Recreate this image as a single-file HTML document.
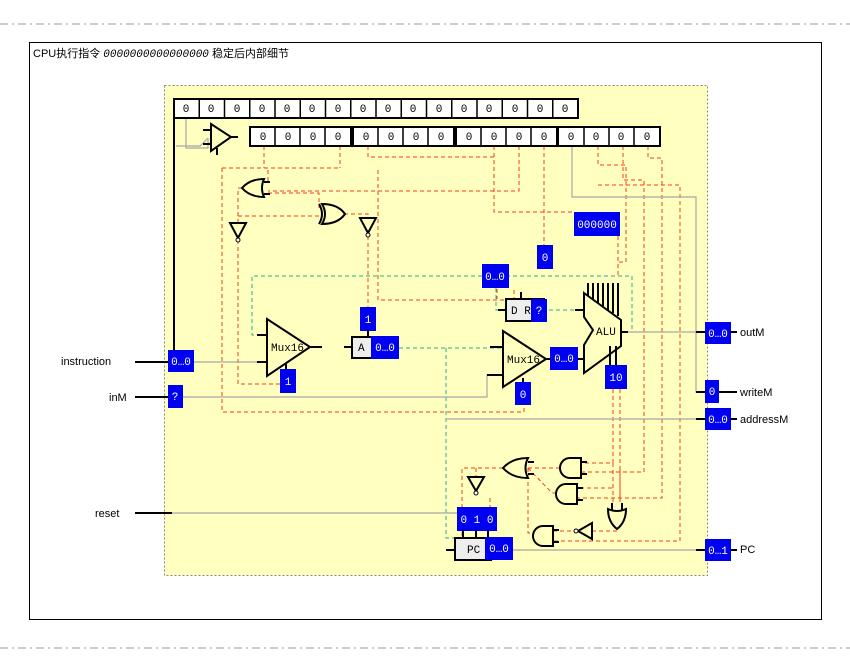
<!DOCTYPE html>
<html><head><meta charset="utf-8"><style>
html,body{margin:0;padding:0;background:#fff;width:850px;height:664px;overflow:hidden}
svg{display:block}
text{font-family:"Liberation Mono","DejaVu Sans Mono",monospace;font-size:11px}
.t{font-family:"Liberation Sans","Noto Sans CJK SC",sans-serif;font-size:11px}
.r{stroke:#ff3a1a;stroke-width:1;fill:none;stroke-dasharray:4,3}
.g{stroke:#20b090;stroke-width:1;fill:none;stroke-dasharray:4,3}
.gr{stroke:#a8a8a8;stroke-width:1.2;fill:none}
.k{stroke:#000;stroke-width:2;fill:none}
.gate{stroke:#000;stroke-width:2;fill:#ffffc0}
.b{fill:#0000f0}
.bt{fill:#fff;text-anchor:middle}
</style></head><body>
<svg width="850" height="664" viewBox="0 0 850 664">
<line x1="0" y1="24" x2="850" y2="24" stroke="#999" stroke-dasharray="8,4,2,4"/>
<line x1="0" y1="648" x2="850" y2="648" stroke="#999" stroke-dasharray="8,4,2,4"/>
<rect x="29.5" y="42.5" width="792" height="577" fill="none" stroke="#000"/>
<text x="33" y="57" class="t">CPU执行指令 <tspan font-family="Liberation Mono,monospace" font-style="italic">0000000000000000</tspan> 稳定后内部细节</text>
<rect x="164.5" y="85.5" width="543" height="490" fill="#ffffc0" stroke="#888" stroke-dasharray="2,2"/>

<!-- red dashed wires -->
<path class="r" d="M264 146V168M340 146V168M222 168H340M222 168V412H524V405"/>
<path class="r" d="M242 188H238V223M238 240V384H280"/>
<path class="r" d="M238 216H319M268 181V168M268 193H319V208"/>
<path class="r" d="M344 214H368V218M368 236V307"/>
<path class="r" d="M368 146V157H494V212H575"/>
<path class="r" d="M519 146V191H268"/>
<path class="r" d="M494 146V160"/>
<path class="r" d="M544 146V245"/>
<path class="r" d="M598 146V165H626V262H618M618 236V276"/>
<path class="r" d="M623 146V180H644V472H581"/>
<path class="r" d="M648 146V158H662V498H577"/>
<path class="r" d="M598 185H680V541H553"/>
<path class="r" d="M378 170V300H510"/>
<path class="r" d="M497 275V299"/>
<path class="r" d="M514 290V300"/>
<path class="r" d="M613 389V463H581M620 389V498M613 463V503M620 470V503M612 488H577"/>
<path class="r" d="M503 468H462V538M476 468V477M528 468H560M528 468L552 493H556M528 468V533H533"/>
<path class="r" d="M553 531H574M592 531H617V528"/>
<path class="r" d="M490 498V507"/>

<!-- green wires -->
<path class="g" d="M621 332H632V276H252V335H267"/>
<path class="g" d="M399 348H503M446 348V538H455"/>
<path class="g" d="M496 288V310H506M549 310H584"/>

<!-- gray wires -->
<path class="gr" d="M194 362H267M183 397H487V375H503M446 419H705M172 513H457M513 550H705M621 332H705M572 146V197H696V392H705"/>
<path class="gr" d="M186 118V148H208V138M176 146H200L208 138"/>

<path class="k" d="M174 118V362"/>

<!-- top register row -->
<rect x="174" y="99" width="404" height="19" fill="#fff" stroke="#000" stroke-width="2"/>
<g stroke="#000" stroke-width="1.5">
<line x1="199.25" y1="99" x2="199.25" y2="118"/><line x1="224.5" y1="99" x2="224.5" y2="118"/><line x1="249.75" y1="99" x2="249.75" y2="118"/><line x1="275" y1="99" x2="275" y2="118"/><line x1="300.25" y1="99" x2="300.25" y2="118"/><line x1="325.5" y1="99" x2="325.5" y2="118"/><line x1="350.75" y1="99" x2="350.75" y2="118"/><line x1="376" y1="99" x2="376" y2="118"/><line x1="401.25" y1="99" x2="401.25" y2="118"/><line x1="426.5" y1="99" x2="426.5" y2="118"/><line x1="451.75" y1="99" x2="451.75" y2="118"/><line x1="477" y1="99" x2="477" y2="118"/><line x1="502.25" y1="99" x2="502.25" y2="118"/><line x1="527.5" y1="99" x2="527.5" y2="118"/><line x1="552.75" y1="99" x2="552.75" y2="118"/>
</g>
<g text-anchor="middle">
<text x="186" y="112">0</text><text x="211" y="112">0</text><text x="237" y="112">0</text><text x="262" y="112">0</text><text x="287" y="112">0</text><text x="312" y="112">0</text><text x="338" y="112">0</text><text x="363" y="112">0</text><text x="388" y="112">0</text><text x="413" y="112">0</text><text x="439" y="112">0</text><text x="464" y="112">0</text><text x="489" y="112">0</text><text x="515" y="112">0</text><text x="540" y="112">0</text><text x="565" y="112">0</text>
</g>
<g stroke="#000" stroke-width="2" fill="#fff">
<rect x="250" y="127" width="101" height="19"/><rect x="353" y="127" width="101" height="19"/><rect x="456" y="127" width="101" height="19"/><rect x="558" y="127" width="102" height="19"/>
</g>
<g stroke="#000" stroke-width="1.5">
<line x1="275" y1="127" x2="275" y2="146"/><line x1="300" y1="127" x2="300" y2="146"/><line x1="325" y1="127" x2="325" y2="146"/>
<line x1="378" y1="127" x2="378" y2="146"/><line x1="403" y1="127" x2="403" y2="146"/><line x1="428" y1="127" x2="428" y2="146"/>
<line x1="481" y1="127" x2="481" y2="146"/><line x1="506" y1="127" x2="506" y2="146"/><line x1="531" y1="127" x2="531" y2="146"/>
<line x1="584" y1="127" x2="584" y2="146"/><line x1="609" y1="127" x2="609" y2="146"/><line x1="634" y1="127" x2="634" y2="146"/>
</g>
<g text-anchor="middle">
<text x="263" y="140">0</text><text x="288" y="140">0</text><text x="313" y="140">0</text><text x="338" y="140">0</text>
<text x="366" y="140">0</text><text x="391" y="140">0</text><text x="416" y="140">0</text><text x="441" y="140">0</text>
<text x="469" y="140">0</text><text x="494" y="140">0</text><text x="519" y="140">0</text><text x="544" y="140">0</text>
<text x="571" y="140">0</text><text x="596" y="140">0</text><text x="621" y="140">0</text><text x="647" y="140">0</text>
</g>

<path class="gate" d="M211 124L231 137L211 151Z"/><path class="k" d="M203 130H211M203 144H211M231 137H238M217 148V155"/>
<path class="gate" d="M264 179Q260 188 264 197Q250 197 242 188Q250 179 264 179Z"/><path class="k" d="M264 182H270M264 194H270"/>
<path class="gate" d="M322 204Q328 214 322 224Q338 224 345 214Q338 204 322 204Z"/><path class="k" d="M319 204Q325 214 319 224"/>
<path class="gate" d="M230 223H246L238 238Z"/><circle cx="238" cy="240" r="2" fill="#fff" stroke="#000"/>
<path class="gate" d="M360 218H376L368 233Z"/><circle cx="368" cy="235" r="2" fill="#fff" stroke="#000"/>

<path class="gate" d="M267 319L310 347L267 376Z"/>
<path class="k" d="M257 335H267M257 362H267M310 347H322M286 369V364"/>
<text x="271" y="351">Mux16</text>
<rect x="352" y="337" width="22" height="21" fill="#eee" stroke="#000" stroke-width="2"/>
<text x="358" y="351">A</text><path class="k" d="M344 347H352M368 330V337"/>
<path class="gate" d="M503 331L546 359L503 387Z"/>
<path class="k" d="M490 347H503M487 375H503M546 359H550M523 382V378"/>
<text x="507" y="363">Mux16</text>
<rect x="506" y="299" width="38" height="22" fill="#eee" stroke="#000" stroke-width="2"/>
<text x="511" y="314">D R</text><path class="k" d="M498 310H506M521 292V299"/>
<g stroke="#000" stroke-width="2"><line x1="588" y1="283" x2="588" y2="296"/><line x1="593" y1="283" x2="593" y2="299"/><line x1="598" y1="283" x2="598" y2="303"/><line x1="603" y1="283" x2="603" y2="306"/><line x1="608" y1="283" x2="608" y2="310"/><line x1="613" y1="283" x2="613" y2="313"/><line x1="618" y1="283" x2="618" y2="316"/></g>
<path class="gate" d="M584 293L621 320V346L584 373V345L593 330L584 317Z"/>
<text x="596" y="335">ALU</text>
<path class="k" d="M575 310H584M578 359H584M621 332H628M610 346V365M616 346V365"/>

<path class="gate" d="M528 458Q523 468 528 478Q512 478 503 468Q512 458 528 458Z"/><path class="k" d="M528 462H534M528 474H534"/>
<path class="gate" d="M468 477H484L476 491Z"/><circle cx="476" cy="493" r="2" fill="#fff" stroke="#000"/>
<path class="gate" d="M581 458H570A10 10 0 0 0 570 478H581Z"/><path class="k" d="M581 462H587M581 474H587"/>
<path class="gate" d="M577 484H566A10 10 0 0 0 566 504H577Z"/><path class="k" d="M577 488H583M577 500H583"/>
<path class="gate" d="M608 509Q617 513 626 509Q626 522 617 529Q608 522 608 509Z"/><path class="k" d="M612 503V511M622 503V511"/>
<path class="gate" d="M592 523V539L578 531Z"/><circle cx="576" cy="531" r="2" fill="#fff" stroke="#000"/>
<path class="gate" d="M553 526H543A10 10 0 0 0 543 546H553Z"/><path class="k" d="M553 530H559M553 542H559"/>
<rect x="455" y="538" width="36" height="22" fill="#eee" stroke="#000" stroke-width="2"/>
<text x="467" y="553">PC</text><path class="k" d="M446 550H455M463 531V538M476 531V538M488 531V538"/>

<text x="61" y="365" class="t">instruction</text><path class="k" d="M135 362H168"/>
<text x="109" y="401" class="t">inM</text><path class="k" d="M135 397H168"/>
<text x="95" y="517" class="t">reset</text><path class="k" d="M135 513H172"/>
<path class="k" d="M696 332H705M696 392H705M696 419H705M696 550H705"/>
<text x="740" y="336" class="t">outM</text><text x="740" y="396" class="t">writeM</text><text x="740" y="423" class="t">addressM</text><text x="740" y="553" class="t">PC</text>
<path class="k" d="M731 332H737M719 392H737M731 419H737M731 550H737"/>

<g>
<rect class="b" x="168" y="350" width="26" height="22"/><text class="bt" x="181" y="365">0…0</text>
<rect class="b" x="168" y="385" width="15" height="23"/><text class="bt" x="175" y="400">?</text>
<rect class="b" x="280" y="369" width="16" height="24"/><text class="bt" x="288" y="385">1</text>
<rect class="b" x="360" y="307" width="16" height="24"/><text class="bt" x="368" y="323">1</text>
<rect class="b" x="371" y="336" width="28" height="23"/><text class="bt" x="385" y="351">0…0</text>
<rect class="b" x="515" y="382" width="16" height="23"/><text class="bt" x="523" y="398">0</text>
<rect class="b" x="550" y="347" width="28" height="23"/><text class="bt" x="564" y="362">0…0</text>
<rect class="b" x="531" y="299" width="16" height="23"/><text class="bt" x="539" y="314">?</text>
<rect class="b" x="482" y="264" width="27" height="24"/><text class="bt" x="495" y="280">0…0</text>
<rect class="b" x="537" y="245" width="16" height="24"/><text class="bt" x="545" y="261">0</text>
<rect class="b" x="574" y="212" width="46" height="24"/><text class="bt" x="597" y="228">000000</text>
<rect class="b" x="605" y="365" width="22" height="24"/><text class="bt" x="616" y="381">10</text>
<rect class="b" x="457" y="507" width="40" height="24"/><text class="bt" x="477" y="523">0 1 0</text>
<rect class="b" x="485" y="537" width="28" height="23"/><text class="bt" x="499" y="552">0…0</text>
<rect class="b" x="705" y="322" width="26" height="22"/><text class="bt" x="718" y="337">0…0</text>
<rect class="b" x="705" y="380" width="14" height="23"/><text class="bt" x="712" y="395">0</text>
<rect class="b" x="705" y="408" width="26" height="22"/><text class="bt" x="718" y="423">0…0</text>
<rect class="b" x="705" y="539" width="26" height="22"/><text class="bt" x="718" y="554">0…1</text>
</g>
</svg>
</body></html>
